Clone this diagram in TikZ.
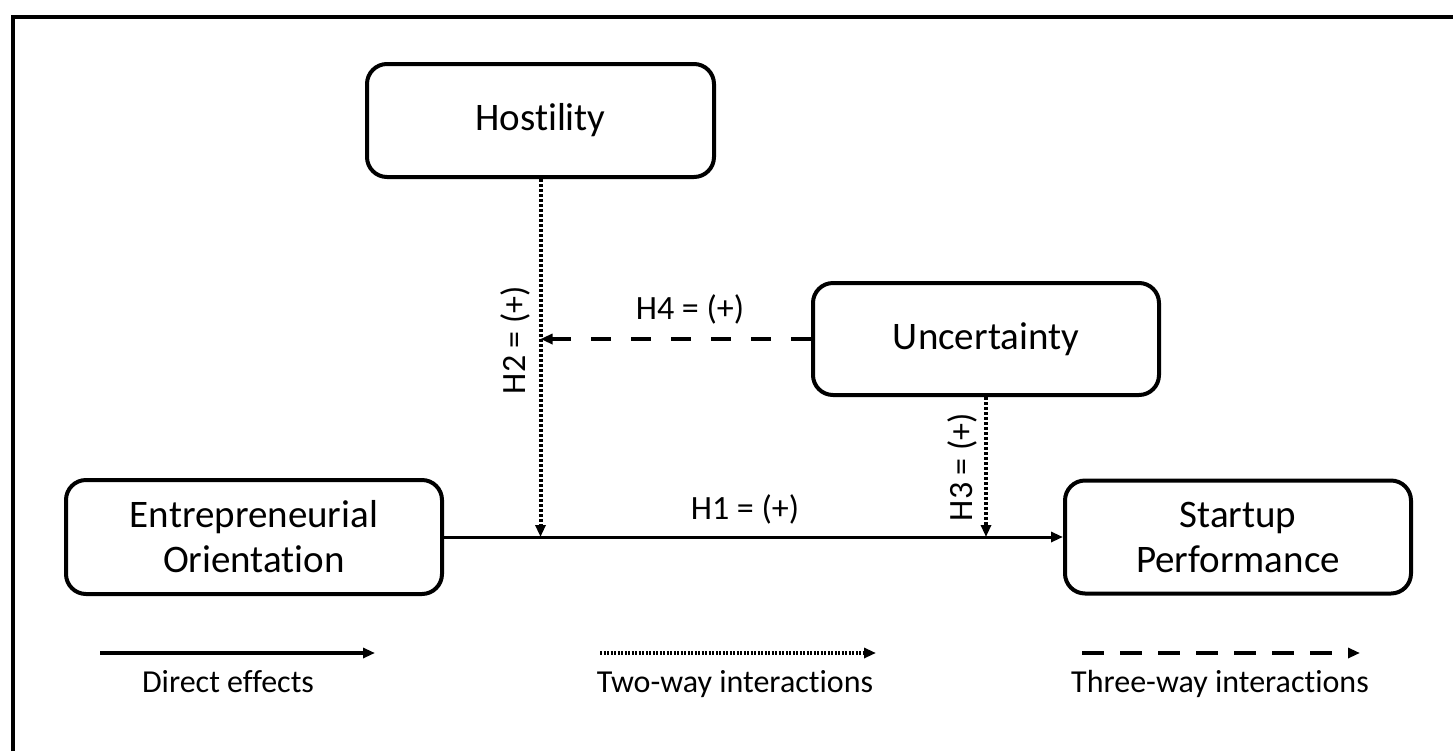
\documentclass[tikz,border=0pt]{standalone}
\usepackage{fontspec}
\setmainfont{Carlito}[Ligatures=NoCommon]
\usetikzlibrary{arrows.meta,calc}

\begin{document}
\begin{tikzpicture}[x=0.5pt,y=-0.5pt,
  box/.style={draw, line width=2pt, rounded corners=10pt, align=center,
    font=\fontsize{19.5}{22.5}\selectfont, inner sep=0pt},
  lbl/.style={font=\fontsize{17}{20}\selectfont, inner sep=0pt},
  legtext/.style={font=\fontsize{16}{19}\selectfont, inner sep=0pt},
  tip/.style={-{Triangle[length=6pt,width=5pt]}},
  solidline/.style={line width=1.5pt, tip},
  dotline/.style={line width=2pt, dash pattern=on 1.5pt off 1pt, tip},
  dashline/.style={line width=2pt, dash pattern=on 10pt off 10pt, tip},
]
\useasboundingbox (0,0) rectangle (1453,751);

% open frame (top and left edges)
\draw[line width=2pt] (13,751) -- (13,17) -- (1453,17);

% constructs
\node[box, minimum width=173.5pt, minimum height=56.5pt] (hos) at (540.5,120.5) {Hostility};
\node[box, minimum width=173pt, minimum height=56pt] (unc) at (986,339) {Uncertainty};
\node[box, minimum width=188pt, minimum height=57pt] (eo) at (254,537) {Entrepreneurial\\Orientation};
\node[box, minimum width=173pt, minimum height=56.5pt] (sp) at (1238,537) {Startup\\Performance};

% direct effect
\draw[solidline] (eo.east) -- (sp.west);

% two-way interactions
\coordinate (h2end) at (hos.south |- eo.east);
\coordinate (h3end) at (unc.south |- eo.east);
\draw[dotline] (hos.south) -- (h2end);
\draw[dotline] (unc.south) -- (h3end);

% three-way interaction
\coordinate (h4end) at (hos.south |- unc.west);
\draw[dashline] (unc.west) -- (h4end);

% hypothesis labels
\node[lbl, anchor=base] (h1) at (745,519) {H1 = (+)};
\node[lbl, anchor=base, rotate=90] (h2) at (525,340) {H2 = (+)};
\node[lbl, anchor=base, rotate=90] (h3) at (972,467) {H3 = (+)};
\node[lbl, anchor=base] (h4) at (690,319) {H4 = (+)};

% legend
\coordinate (l1a) at (100,653); \coordinate (l1b) at (375,653);
\coordinate (l2a) at (600,653); \coordinate (l2b) at (876,653);
\coordinate (l3a) at (1082,653); \coordinate (l3b) at (1360,653);
\draw[solidline, line width=2pt] (l1a) -- (l1b);
\draw[dotline, line width=1.75pt, dash pattern=on 1pt off 0.75pt] (l2a) -- (l2b);
\draw[dashline, dash pattern=on 11pt off 8pt] (l3a) -- (l3b);
\node[legtext, anchor=base] (t1) at (228,692) {Direct effects};
\node[legtext, anchor=base] (t2) at (735,692) {Two-way interactions};
\node[legtext, anchor=base] (t3) at (1220,692) {Three-way interactions};
\end{tikzpicture}
\end{document}
